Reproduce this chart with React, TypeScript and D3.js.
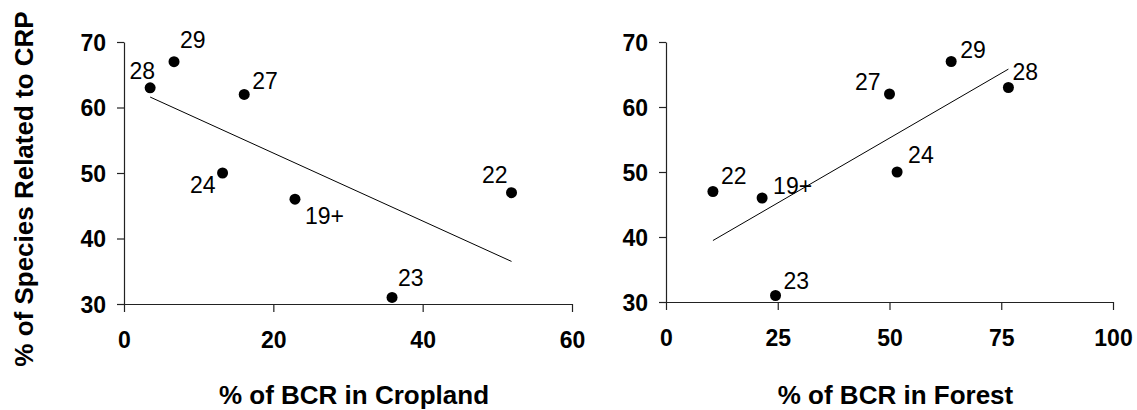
import React, { useRef, useEffect } from "react"
import * as d3 from "d3"

// BCR labels shared by both panels
const bcrLabels = ["28", "29", "27", "24", "19+", "23", "22"]
// % of species related to CRP (y, same in both panels)
const speciesPct = [63, 67, 62, 50, 46, 31, 47]
// % of BCR in cropland (left panel x)
const croplandPct = [3.5, 6.7, 16.1, 13.2, 22.9, 35.9, 51.9]
// % of BCR in forest (right panel x)
const forestPct = [76.6, 63.8, 50, 51.7, 21.5, 24.5, 10.5]

const yTicks = [30, 40, 50, 60, 70]
const croplandTicks = [0, 20, 40, 60]
const forestTicks = [0, 25, 50, 75, 100]

// label placement per point: [anchor, dx, dy]
const croplandLabelPos: [string, number, number][] = [
  ["end", 5, -9], ["start", 6, -14], ["start", 8, -5], ["end", -7, 20],
  ["start", 10, 25], ["start", 6, -11], ["end", -4, -10]
]
const forestLabelPos: [string, number, number][] = [
  ["start", 4, -8], ["start", 9, -4], ["end", -9, -4], ["start", 11, -9],
  ["start", 11, -4], ["start", 8, -7], ["start", 8, -8]
]

const FONT = "'Liberation Sans', Arial, sans-serif"

const App = () => {
  const svgRef = useRef(null)

  const drawPanel = (svg, opts) => {
    const { xs, ys, xTicks, xDomain, xRange, yRange, labelPos, title } = opts
    const x = d3.scaleLinear().domain(xDomain).range(xRange)
    const y = d3.scaleLinear().domain([30, 70]).range(yRange)
    const g = svg.append("g")

    const xAxis = g
      .append("g")
      .attr("transform", `translate(0,${yRange[0]})`)
      .call(d3.axisBottom(x).tickValues(xTicks).tickSize(8).tickSizeOuter(0).tickPadding(20))
    const yAxis = g
      .append("g")
      .attr("transform", `translate(${xRange[0]},0)`)
      .call(d3.axisLeft(y).tickValues(yTicks).tickSize(7).tickSizeOuter(0).tickPadding(11))

    ;[xAxis, yAxis].forEach((a) => {
      a.selectAll("path, line").attr("stroke", "#222").attr("stroke-width", 1.2)
      a.selectAll("text")
        .attr("fill", "#000")
        .style("font-family", FONT)
        .style("font-size", "23px")
        .style("font-weight", "bold")
    })
    xAxis.selectAll("text").attr("dy", "0.71em")
    yAxis.selectAll("text").attr("dy", "0.36em")

    // least-squares trend line over the data range
    const mx = d3.mean(xs)
    const my = d3.mean(ys)
    const slope =
      d3.sum(xs, (v, i) => (v - mx) * (ys[i] - my)) / d3.sum(xs, (v) => (v - mx) * (v - mx))
    const [x0, x1] = d3.extent(xs)
    const line = d3.line().x((d) => x(d[0])).y((d) => y(d[1]))
    g.append("path")
      .attr("d", line([[x0, my + slope * (x0 - mx)], [x1, my + slope * (x1 - mx)]]))
      .attr("stroke", "#000")
      .attr("stroke-width", 1)
      .attr("fill", "none")

    g.selectAll(".dot")
      .data(xs)
      .enter()
      .append("circle")
      .attr("cx", (d) => x(d))
      .attr("cy", (d, i) => y(ys[i]))
      .attr("r", 5.5)
      .attr("fill", "#000")

    g.selectAll(".lbl")
      .data(xs)
      .enter()
      .append("text")
      .attr("x", (d, i) => x(d) + labelPos[i][1])
      .attr("y", (d, i) => y(ys[i]) + labelPos[i][2])
      .attr("text-anchor", (d, i) => labelPos[i][0])
      .style("font-family", FONT)
      .style("font-size", "23px")
      .text((d, i) => bcrLabels[i])

    g.append("text")
      .attr("x", (xRange[0] + xRange[1]) / 2 + 6)
      .attr("y", 404)
      .attr("text-anchor", "middle")
      .style("font-family", FONT)
      .style("font-size", "26px")
      .style("font-weight", "bold")
      .text(title)
  }

  const generateChart = () => {
    const svg = d3.select(svgRef.current)
    svg.selectAll("*").remove()

    svg
      .append("text")
      .attr("transform", "translate(33,189) rotate(-90)")
      .attr("text-anchor", "middle")
      .style("font-family", FONT)
      .style("font-size", "26px")
      .style("font-weight", "bold")
      .text("% of Species Related to CRP")

    drawPanel(svg, {
      xs: croplandPct,
      ys: speciesPct,
      xTicks: croplandTicks,
      xDomain: [0, 60],
      xRange: [124, 572],
      yRange: [304, 42],
      labelPos: croplandLabelPos,
      title: "% of BCR in Cropland"
    })

    drawPanel(svg, {
      xs: forestPct,
      ys: speciesPct,
      xTicks: forestTicks,
      xDomain: [0, 100],
      xRange: [666, 1113],
      yRange: [302, 42],
      labelPos: forestLabelPos,
      title: "% of BCR in Forest"
    })
  }

  useEffect(() => {
    generateChart()
  }, [])

  return (
    <svg
      ref={svgRef}
      width={1137}
      height={410}
      style={{ position: "absolute", left: 0, top: 0, background: "#fff" }}
    ></svg>
  )
}

export default App
